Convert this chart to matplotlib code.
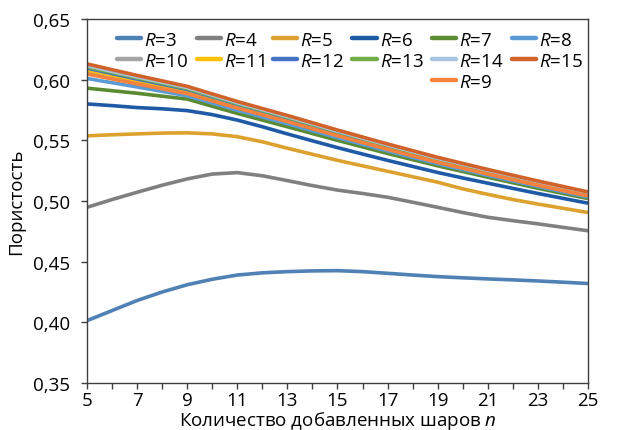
import matplotlib
matplotlib.use("Agg")
import matplotlib.pyplot as plt
from matplotlib.lines import Line2D
from matplotlib.ticker import FuncFormatter, FixedLocator, MultipleLocator

plt.rcParams["font.family"] = ["Open Sans", "DejaVu Sans"]
plt.rcParams["mathtext.fontset"] = "custom"
plt.rcParams["mathtext.rm"] = "Open Sans"
plt.rcParams["mathtext.it"] = "Open Sans:italic"

# количество добавленных шаров n
n = [5, 7, 9, 11, 13, 15, 17, 19, 21, 23, 25]
n_fine = [5, 6, 7, 8, 9, 10, 11, 12, 13, 14, 15, 16, 17, 18, 19, 20, 21, 22, 23, 24, 25]
n_labels = [5, 7, 9, 11, 13, 15, 17, 19, 21, 23, 25]

# пористость для каждого R
por_r3 = [0.4014, 0.4097, 0.4180, 0.4250, 0.4310, 0.4355, 0.4390, 0.4408, 0.4418, 0.4424, 0.4426,
          0.4418, 0.4404, 0.4390, 0.4377, 0.4367, 0.4358, 0.4350, 0.4341, 0.4331, 0.4320]
por_r4 = [0.4948, 0.5012, 0.5072, 0.5130, 0.5182, 0.5222, 0.5234, 0.5208, 0.5168, 0.5127, 0.5090,
          0.5062, 0.5031, 0.4990, 0.4948, 0.4905, 0.4866, 0.4838, 0.4812, 0.4783, 0.4755]
por_r5 = [0.5537, 0.5546, 0.5553, 0.5560, 0.5562, 0.5553, 0.5530, 0.5488, 0.5435, 0.5385, 0.5335,
          0.5290, 0.5245, 0.5200, 0.5155, 0.5100, 0.5055, 0.5012, 0.4975, 0.4940, 0.4905]
por_r6 = [0.5800, 0.5786, 0.5770, 0.5760, 0.5745, 0.5712, 0.5667, 0.5612, 0.5553, 0.5496, 0.5440,
          0.5387, 0.5335, 0.5285, 0.5235, 0.5190, 0.5147, 0.5104, 0.5062, 0.5022, 0.4982]
por_r7 = [0.5930, 0.5888, 0.5840, 0.5722, 0.5612, 0.5500, 0.5392, 0.5290, 0.5196, 0.5105, 0.5020]
por_r8 = [0.6010, 0.5940, 0.5867, 0.5748, 0.5637, 0.5522, 0.5412, 0.5307, 0.5211, 0.5120, 0.5033]
por_r9 = [0.6047, 0.5965, 0.5885, 0.5766, 0.5655, 0.5538, 0.5426, 0.5319, 0.5222, 0.5130, 0.5042]
por_r10 = [0.6070, 0.5985, 0.5902, 0.5782, 0.5669, 0.5551, 0.5437, 0.5328, 0.5230, 0.5136, 0.5047]
por_r11 = [0.6080, 0.5993, 0.5909, 0.5788, 0.5675, 0.5556, 0.5442, 0.5333, 0.5234, 0.5140, 0.5051]
por_r12 = [0.6095, 0.6005, 0.5919, 0.5796, 0.5682, 0.5563, 0.5449, 0.5340, 0.5241, 0.5147, 0.5058]
por_r13 = [0.6105, 0.6015, 0.5927, 0.5803, 0.5689, 0.5570, 0.5455, 0.5346, 0.5247, 0.5153, 0.5063]
por_r14 = [0.6115, 0.6023, 0.5935, 0.5810, 0.5696, 0.5576, 0.5462, 0.5352, 0.5253, 0.5158, 0.5069]
por_r15 = [0.6130, 0.6035, 0.5945, 0.5820, 0.5705, 0.5585, 0.5470, 0.5360, 0.5260, 0.5165, 0.5075]

# порядок серий как в легенде
series = [
    ("3", n_fine, por_r3, "#4f81b4"),
    ("4", n_fine, por_r4, "#808080"),
    ("5", n_fine, por_r5, "#dca12e"),
    ("6", n_fine, por_r6, "#1e5aa5"),
    ("7", n, por_r7, "#5a8a32"),
    ("8", n, por_r8, "#5b9bd5"),
    ("10", n, por_r10, "#a5a5a5"),
    ("11", n, por_r11, "#ffc000"),
    ("12", n, por_r12, "#4472c4"),
    ("13", n, por_r13, "#70ad47"),
    ("14", n, por_r14, "#a8c4e0"),
    ("15", n, por_r15, "#d0622a"),
    ("9", n, por_r9, "#f4823c"),
]

fig = plt.figure(figsize=(6.29, 4.31), dpi=100)
ax = fig.add_axes([0.1383, 0.109, 0.7965, 0.8446])

lines = {}
for r, xs, vals, col in series:
    ln, = ax.plot(xs, vals, color=col, linewidth=2.6, solid_capstyle="butt",
                  solid_joinstyle="round", label="$\\it{R}$=" + r)
    lines[r] = ln

ax.set_xlim(5, 25)
ax.set_ylim(0.35, 0.65)
ax.xaxis.set_major_locator(FixedLocator(n_labels))
ax.xaxis.set_minor_locator(MultipleLocator(1))
ax.yaxis.set_major_locator(MultipleLocator(0.05))
ax.yaxis.set_major_formatter(FuncFormatter(lambda v, p: f"{v:.2f}".replace(".", ",")))

for sp in ax.spines.values():
    sp.set_color("#404040")
    sp.set_linewidth(1.0)
ax.tick_params(axis="both", which="both", direction="out", color="#404040",
               labelsize=13.5, length=4, width=1)
ax.tick_params(axis="x", which="both", pad=2)
ax.tick_params(axis="y", pad=8)

ax.set_ylabel("Пористость", fontsize=13.5, labelpad=6)
ax.set_xlabel("Количество добавленных шаров $\\it{n}$", fontsize=13.5, labelpad=0)

# легенда: 6 столбцов, заполнение по строкам как в Excel
blank = Line2D([], [], color="none")
rows = [["3", "4", "5", "6", "7", "8"],
        ["10", "11", "12", "13", "14", "15"],
        [None, None, None, None, "9", None]]
handles, labels = [], []
for c in range(6):
    for row in rows:
        key = row[c]
        if key is None:
            handles.append(blank)
            labels.append("")
        else:
            handles.append(lines[key])
            labels.append(lines[key].get_label())
leg = ax.legend(handles, labels, ncol=6, loc="upper right",
                bbox_to_anchor=(0.99, 0.967), frameon=False, fontsize=13.5,
                handlelength=1.3, handletextpad=0.15, columnspacing=0.45,
                labelspacing=0.15, borderaxespad=0.0, borderpad=0.0)
for h in leg.legend_handles:
    h.set_linewidth(3.2)
    h.set_solid_capstyle("round")

fig.savefig("out.png", dpi=100)
